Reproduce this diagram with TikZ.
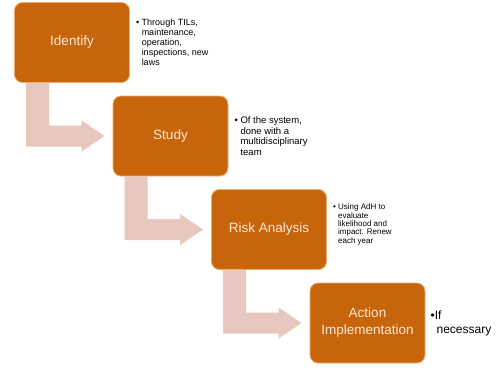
\documentclass[tikz,border=0pt]{standalone}
\usepackage{fontspec}
\setmainfont{Liberation Sans}
\usetikzlibrary{positioning,calc}
\definecolor{boxorange}{RGB}{199,101,12}
\definecolor{boxedge}{RGB}{236,172,112}
\definecolor{boxtext}{RGB}{252,232,214}
\definecolor{flowpink}{RGB}{231,199,190}
\newcommand{\bulind}{\phantom{\textbullet\ }}
\tikzset{
  stage/.style={rounded corners=8pt, fill=boxorange, draw=boxedge, line width=0.8pt,
    text=boxtext, minimum width=115pt, minimum height=80pt, align=center,
    font=\fontsize{13.5}{17}\selectfont},
  note/.style={inner sep=0pt, align=left, text=black},
  flow/.style={fill=flowpink}
}
\begin{document}
\begin{tikzpicture}[x=1pt,y=-1pt]
   \useasboundingbox (0,0) rectangle (496,368);
   % the four steps
   \node[stage] (id) at (72,42.5) {Identify};
   \node[stage] (study) at (170.5,136) {Study};
   \node[stage] (risk) at (269,229.5) {Risk Analysis};
   \node[stage] (act) at (367.5,323) {Action\\Implementation};
   % notes beside the steps
   \node[note, right=6pt of id, font=\fontsize{9}{10}\selectfont] (idtxt)
     {\textbullet\ Through TILs,\\\bulind maintenance,\\\bulind operation,\\\bulind inspections, new\\\bulind laws};
   \node[note, right=6pt of study, font=\fontsize{9.5}{10.5}\selectfont] (studytxt)
     {\textbullet\ Of the system,\\\bulind done with a\\\bulind multidisciplinary\\\bulind team};
   \node[note, right=6pt of risk, yshift=5pt, font=\fontsize{8}{8.3}\selectfont] (risktxt)
     {\textbullet\ Using AdH to\\\bulind evaluate\\\bulind likelihood and\\\bulind impact. Renew\\\bulind each year};
   \node[note, right=5pt of act, font=\fontsize{12}{14}\selectfont] (acttxt)
     {\textbullet If\\\hspace*{6pt}necessary};
   % bent arrows from one step to the next
   \foreach \a/\b in {id/study,study/risk,risk/act}
     \fill[flow] let \p1=($(\a.south west)+(12,0)$), \p2=($(\b.west)+(-8,0)$) in
       (\x1,\y1) -- (\x1+23pt,\y1) -- (\x1+23pt,\y2+10.5pt) -- (\x2-23pt,\y2+10.5pt)
       -- (\x2-23pt,\y2+15.5pt) -- (\x2,\y2) -- (\x2-23pt,\y2-15.5pt)
       -- (\x2-23pt,\y2-10.5pt) -- (\x1,\y2-10.5pt) -- cycle;
\end{tikzpicture}
\end{document}
